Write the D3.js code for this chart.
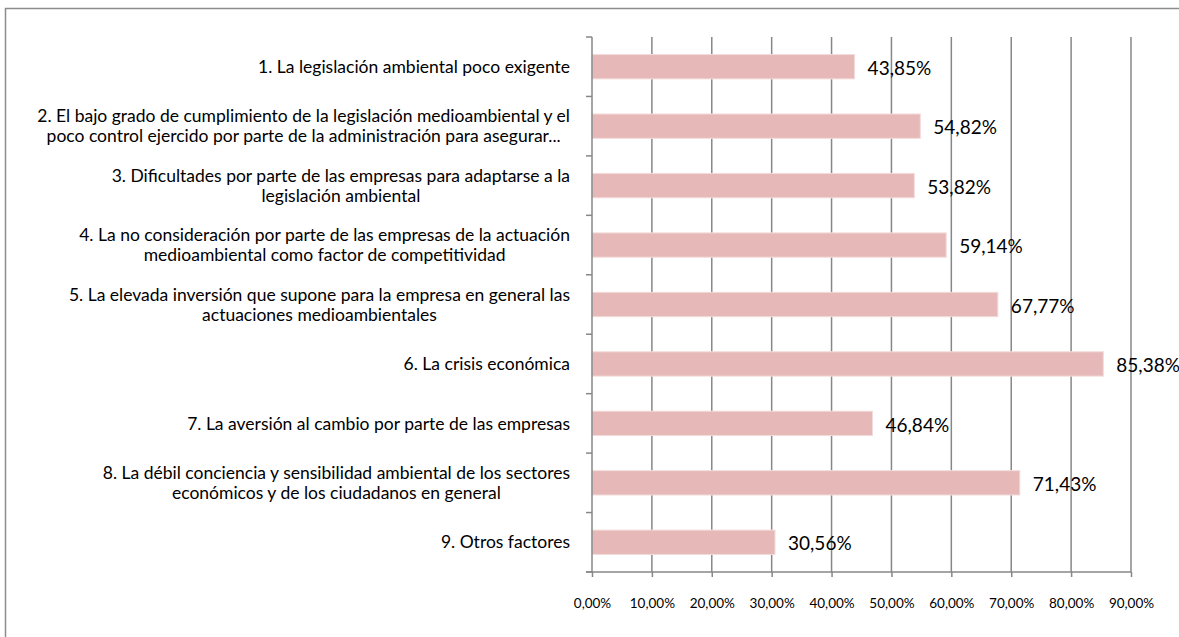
<!DOCTYPE html>
<html>
<head>
<meta charset="utf-8">
<script src="https://cdn.jsdelivr.net/npm/d3@7"></script>
<style>
  html, body { margin: 0; padding: 0; background: #fff; }
  svg { display: block; }
  text { font-family: Lato, "Open Sans", sans-serif; fill: #000; }
</style>
</head>
<body>
<svg id="chart" width="1179" height="637"></svg>
<script>
const categories = [
  ["1. La legislación ambiental poco exigente"],
  ["2. El bajo grado de cumplimiento de la legislación medioambiental y el", "poco control ejercido por parte de la administración para asegurar..."],
  ["3. Dificultades por parte de las empresas para adaptarse a la", "legislación ambiental"],
  ["4. La no consideración por parte de las empresas de la actuación", "medioambiental como factor de competitividad"],
  ["5. La elevada inversión que supone para la empresa en general las", "actuaciones medioambientales"],
  ["6. La crisis económica"],
  ["7. La aversión al cambio por parte de las empresas"],
  ["8. La débil conciencia y sensibilidad ambiental de los sectores", "económicos y de los ciudadanos en general"],
  ["9. Otros factores"]
];
const values = [43.85, 54.82, 53.82, 59.14, 67.77, 85.38, 46.84, 71.43, 30.56];
const tickValues = [0, 10, 20, 30, 40, 50, 60, 70, 80, 90];

const fmt = v => v.toFixed(2).replace(".", ",") + "%";

const svg = d3.select("#chart");

// outer chart border
svg.append("rect")
  .attr("x", 5.5).attr("y", 8.5)
  .attr("width", 1190).attr("height", 660)
  .attr("fill", "none").attr("stroke", "#8c8c8c").attr("stroke-width", 1.5);

const pLeft = 592, pRight = 1131, pTop = 37, pBottom = 572;
const x = d3.scaleLinear().domain([0, 90]).range([pLeft, pRight]);
const idx = d3.range(categories.length);
const yb = d3.scaleBand().domain(idx).range([pTop, pBottom]).paddingInner(0.59).paddingOuter(0.295);
const yEdge = d3.scaleLinear().domain([0, categories.length]).range([pTop, pBottom]);

const gridColor = "#878787";

// vertical gridlines
svg.append("g").selectAll("line")
  .data(tickValues.slice(1))
  .join("line")
  .attr("x1", d => x(d)).attr("x2", d => x(d))
  .attr("y1", pTop).attr("y2", pBottom)
  .attr("stroke", gridColor).attr("stroke-width", 1.5);

// bars
svg.append("g").selectAll("rect")
  .data(values)
  .join("rect")
  .attr("x", x(0))
  .attr("y", (d, i) => yb(i))
  .attr("width", d => x(d) - x(0))
  .attr("height", yb.bandwidth())
  .attr("fill", "#E6B9B8")
  .attr("stroke", "#F2DCDB").attr("stroke-width", 1);

// x axis
const xAxis = d3.axisBottom(x).tickValues(tickValues).tickSize(5).tickFormat(fmt);
const gx = svg.append("g").attr("transform", `translate(0,${pBottom})`).call(xAxis);
gx.select(".domain").attr("stroke", gridColor).attr("stroke-width", 1.5)
  .attr("d", `M${pLeft - 6},0H${pRight}`);
gx.selectAll(".tick line").attr("stroke", gridColor).attr("stroke-width", 1.5);
gx.selectAll(".tick text").attr("y", 32).attr("dy", "0.32em")
  .style("font-size", "13.5px").style("font-family", "Lato, 'Open Sans', sans-serif").attr("fill", "#000");

// y axis line + category separator ticks
svg.append("line")
  .attr("x1", pLeft).attr("x2", pLeft).attr("y1", pTop).attr("y2", pBottom)
  .attr("stroke", gridColor).attr("stroke-width", 1.5);
svg.append("g").selectAll("line")
  .data(d3.range(categories.length + 1))
  .join("line")
  .attr("x1", pLeft - 6).attr("x2", pLeft)
  .attr("y1", d => yEdge(d)).attr("y2", d => yEdge(d))
  .attr("stroke", gridColor).attr("stroke-width", 1.5);

// category labels: lines centered to each other, block right-aligned
const labelRight = 570, lineH = 20;
const lg = svg.append("g");
categories.forEach((lines, i) => {
  const cy = yb(i) + yb.bandwidth() / 2;
  const g = lg.append("g");
  const texts = lines.map((ln, j) => g.append("text")
    .text(ln)
    .style("font-size", "17.5px")
    .attr("text-anchor", "middle")
    .attr("y", cy + (j - (lines.length - 1) / 2) * lineH)
    .attr("dy", "0.35em"));
  const maxW = d3.max(texts, t => t.node().getComputedTextLength());
  texts.forEach(t => t.attr("x", labelRight - maxW / 2));
});

// value labels
svg.append("g").selectAll("text")
  .data(values)
  .join("text")
  .attr("x", d => x(d) + 13)
  .attr("y", (d, i) => yb(i) + yb.bandwidth() / 2 + 1.5)
  .attr("dy", "0.35em")
  .style("font-size", "19px")
  .text(fmt);
</script>
</body>
</html>
